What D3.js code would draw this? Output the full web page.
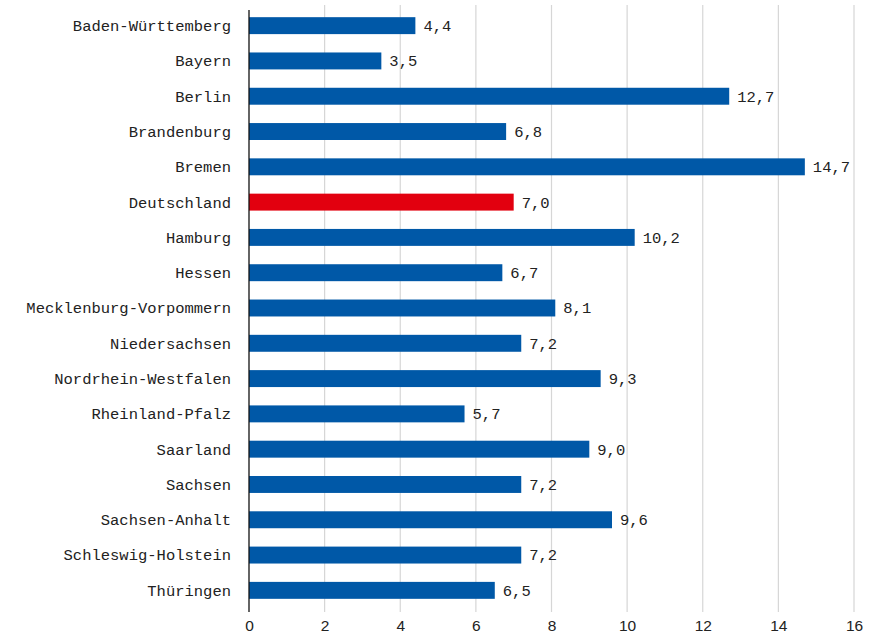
<!DOCTYPE html>
<html>
<head>
<meta charset="utf-8">
<script src="https://cdn.jsdelivr.net/npm/d3@7"></script>
<style>
  html, body { margin: 0; padding: 0; background: #fff; }
  svg { display: block; }
</style>
</head>
<body>
<svg id="chart" width="882" height="636"></svg>
<script>
// Values per Bundesland (plus the national figure)
const categories = [
  "Baden-Württemberg", "Bayern", "Berlin", "Brandenburg", "Bremen",
  "Deutschland", "Hamburg", "Hessen", "Mecklenburg-Vorpommern",
  "Niedersachsen", "Nordrhein-Westfalen", "Rheinland-Pfalz", "Saarland",
  "Sachsen", "Sachsen-Anhalt", "Schleswig-Holstein", "Thüringen"
];
const values = [4.4, 3.5, 12.7, 6.8, 14.7, 7.0, 10.2, 6.7, 8.1, 7.2, 9.3, 5.7, 9.0, 7.2, 9.6, 7.2, 6.5];
const highlight = "Deutschland";
const xTicks = [0, 2, 4, 6, 8, 10, 12, 14, 16];

(function () {
  const svg = d3.select("#chart");
  const plotLeft = 249, plotRight = 854, plotTop = 8, plotBottom = 608;

  const x = d3.scaleLinear().domain([0, 16]).range([plotLeft, plotRight]);
  const y = d3.scaleBand().domain(categories).range([plotTop, plotBottom]).paddingInner(0.52).paddingOuter(0.26);

  const mono = "'Liberation Mono', 'DejaVu Sans Mono', monospace";
  const sans = "'Liberation Sans', Arial, sans-serif";

  // vertical grid lines
  svg.append("g").selectAll("line").data(xTicks.slice(1)).join("line")
    .attr("x1", d => x(d)).attr("x2", d => x(d))
    .attr("y1", 5).attr("y2", 612)
    .attr("stroke", "#d6d6d6").attr("stroke-width", 1.2);

  // bars
  const data = categories.map((c, i) => ({ c, v: values[i] }));
  svg.append("g").selectAll("rect").data(data).join("rect")
    .attr("x", x(0))
    .attr("y", d => y(d.c))
    .attr("width", d => x(d.v) - x(0))
    .attr("height", y.bandwidth())
    .attr("fill", d => d.c === highlight ? "#e2000f" : "#0058a7");

  // value labels
  const fmt = v => d3.format(".1f")(v).replace(".", ",");
  svg.append("g").selectAll("text").data(data).join("text")
    .attr("x", d => x(d.v) + 8)
    .attr("y", d => y(d.c) + y.bandwidth() / 2)
    .attr("dy", "0.35em")
    .attr("font-family", mono).attr("font-size", "15.5px").attr("fill", "#222")
    .text(d => fmt(d.v));

  // category labels
  svg.append("g").selectAll("text").data(categories).join("text")
    .attr("x", 231)
    .attr("y", d => y(d) + y.bandwidth() / 2)
    .attr("dy", "0.35em")
    .attr("text-anchor", "end")
    .attr("font-family", mono).attr("font-size", "15.5px").attr("fill", "#222")
    .text(d => d);

  // zero line
  svg.append("line")
    .attr("x1", x(0)).attr("x2", x(0)).attr("y1", 10).attr("y2", 612)
    .attr("stroke", "#111").attr("stroke-width", 1.3);

  // x axis tick labels
  const axis = d3.axisBottom(x).tickValues(xTicks).tickSize(0).tickPadding(0).tickFormat(d3.format("d"));
  const gx = svg.append("g").attr("transform", "translate(0, 620)").call(axis);
  gx.select(".domain").remove();
  gx.selectAll("text").attr("font-family", sans).attr("font-size", "15.5px").attr("fill", "#222").attr("dy", "0.71em");
})();
</script>
</body>
</html>
